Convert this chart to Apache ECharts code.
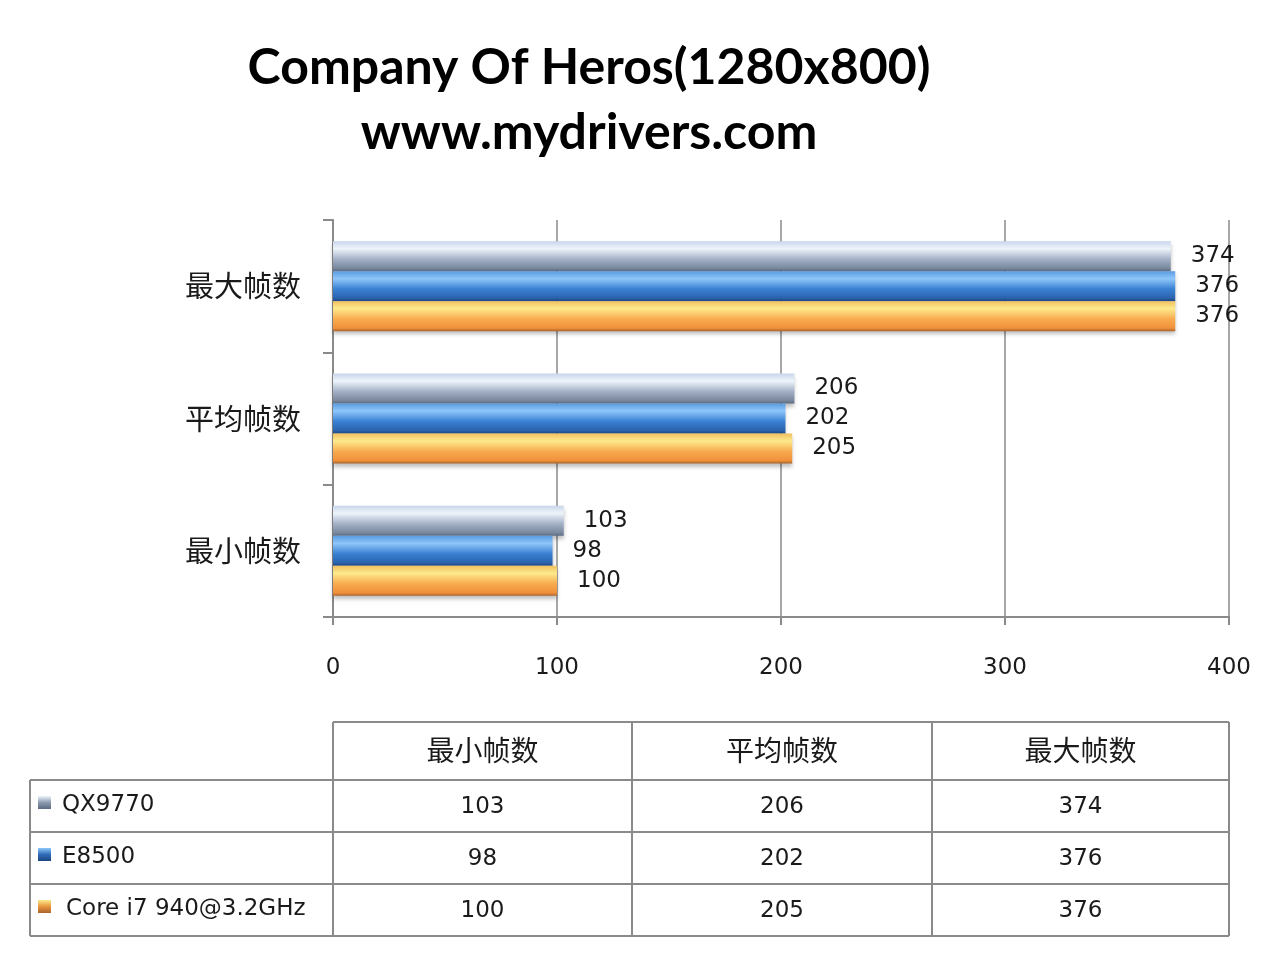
<!DOCTYPE html>
<html>
<head>
<meta charset="utf-8">
<script src="https://cdn.jsdelivr.net/npm/echarts@6/dist/echarts.min.js"></script>
<style>
html,body{margin:0;padding:0;background:#fff;}
#main{width:1280px;height:972px;}
</style>
</head>
<body>
<div id="main"></div>
<script>
// ---- data ----
var titleLine1 = 'Company Of Heros(1280x800)';
var titleLine2 = 'www.mydrivers.com';
var categories = ['最小帧数', '平均帧数', '最大帧数'];
var seriesNames = ['QX9770', 'E8500', 'Core i7 940@3.2GHz'];
var qx9770 = [103, 206, 374];
var e8500 = [98, 202, 376];
var corei7 = [100, 205, 376];
var xTicks = [0, 100, 200, 300, 400];

// ---- styles ----
var seriesValues = [qx9770, e8500, corei7];
function grad(c) {
  return new echarts.graphic.LinearGradient(0, 0, 0, 1, [
    {offset: 0, color: c[0]},
    {offset: 0.25, color: c[1]},
    {offset: 0.6, color: c[2]},
    {offset: 0.9, color: c[3]},
    {offset: 1, color: c[4]}
  ]);
}
var palettes = [
  ['#c8d6ea', '#eef4fb', '#a3b0c6', '#7a889e', '#5b6a80'],
  ['#5a9be0', '#8ec6fa', '#3a80d2', '#2a62ad', '#1c4682'],
  ['#f0c060', '#fde98c', '#f8aa4e', '#f0913a', '#a8642c']
];
var iconColors = ['#8c9ab0', '#2f6cb8', '#e8963e'];

var chart = echarts.init(document.getElementById('main'));

var series = seriesNames.map(function (name, i) {
  return {
    name: name,
    type: 'bar',
    data: seriesValues[i],
    barWidth: 30,
    barGap: '0%',
    itemStyle: {color: grad(palettes[i]), shadowColor: 'rgba(0,0,0,0.25)', shadowBlur: 4, shadowOffsetY: 3},
    label: {
      show: true, position: 'right', distance: 20,
      fontFamily: 'DejaVu Sans', fontSize: 23, color: '#1a1a1a'
    },
    z: 3
  };
});

// ---- table ----
var tLeft = 30, colX = [333, 632, 932, 1229], rowY = [722, 780, 832, 884, 936];
var lineStyle = {stroke: '#8a8a8a', lineWidth: 2};
var g = [];
function hline(y, x1, x2) { g.push({type: 'line', shape: {x1: x1, y1: y, x2: x2, y2: y}, style: lineStyle}); }
function vline(x, y1, y2) { g.push({type: 'line', shape: {x1: x, y1: y1, x2: x, y2: y2}, style: lineStyle}); }
hline(rowY[0], colX[0], colX[3]);
for (var r = 1; r < rowY.length; r++) hline(rowY[r], tLeft, colX[3]);
colX.forEach(function (x) { vline(x, rowY[0], rowY[4]); });
vline(tLeft, rowY[1], rowY[4]);
categories.forEach(function (c, j) {
  g.push({type: 'text', x: (colX[j] + colX[j + 1]) / 2, y: (rowY[0] + rowY[1]) / 2 - 1,
    style: {text: c, align: 'center', verticalAlign: 'middle', font: '28px "Noto Sans CJK SC"', fill: '#1a1a1a'}});
});
seriesNames.forEach(function (n, i) {
  var cy = (rowY[i + 1] + rowY[i + 2]) / 2;
  g.push({type: 'rect', shape: {x: 38, y: cy - 10, width: 13, height: 13},
    style: {fill: new echarts.graphic.LinearGradient(0, 0, 0, 1, [{offset: 0, color: palettes[i][1]}, {offset: 0.5, color: iconColors[i]}, {offset: 1, color: palettes[i][4]}])}});
  g.push({type: 'text', x: i === 2 ? 66 : 62, y: cy - 1,
    style: {text: n, align: 'left', verticalAlign: 'middle', font: '23px "DejaVu Sans"', fill: '#1a1a1a'}});
  seriesValues[i].forEach(function (v, j) {
    g.push({type: 'text', x: (colX[j] + colX[j + 1]) / 2, y: cy + 1,
      style: {text: String(v), align: 'center', verticalAlign: 'middle', font: '23px "DejaVu Sans"', fill: '#1a1a1a'}});
  });
});
// title
g.push({type: 'text', x: 589, y: 68, style: {text: titleLine1, align: 'center', verticalAlign: 'middle', font: 'bold 50px Lato', fill: '#000'}});
g.push({type: 'text', x: 589, y: 133, style: {text: titleLine2, align: 'center', verticalAlign: 'middle', font: 'bold 50px Lato', fill: '#000'}});

chart.setOption({
  backgroundColor: '#ffffff',
  animation: false,
  grid: {left: 333, right: 51, top: 220, bottom: 355, containLabel: false},
  xAxis: {
    type: 'value', min: xTicks[0], max: xTicks[xTicks.length - 1], interval: xTicks[1] - xTicks[0],
    axisLine: {show: true, lineStyle: {color: '#8a8a8a', width: 2}},
    axisTick: {show: true, length: 8, lineStyle: {color: '#8a8a8a', width: 2}},
    splitLine: {show: true, lineStyle: {color: '#8a8a8a', width: 1.5}},
    axisLabel: {margin: 40, fontFamily: 'DejaVu Sans', fontSize: 23, color: '#1a1a1a'}
  },
  yAxis: {
    type: 'category', data: categories,
    axisLine: {show: true, lineStyle: {color: '#8a8a8a', width: 2}},
    axisTick: {show: true, length: 10, lineStyle: {color: '#8a8a8a', width: 2}},
    axisLabel: {margin: 32, fontFamily: 'Noto Sans CJK SC', fontSize: 29, color: '#1a1a1a'}
  },
  series: series,
  graphic: g
});
</script>
</body>
</html>
